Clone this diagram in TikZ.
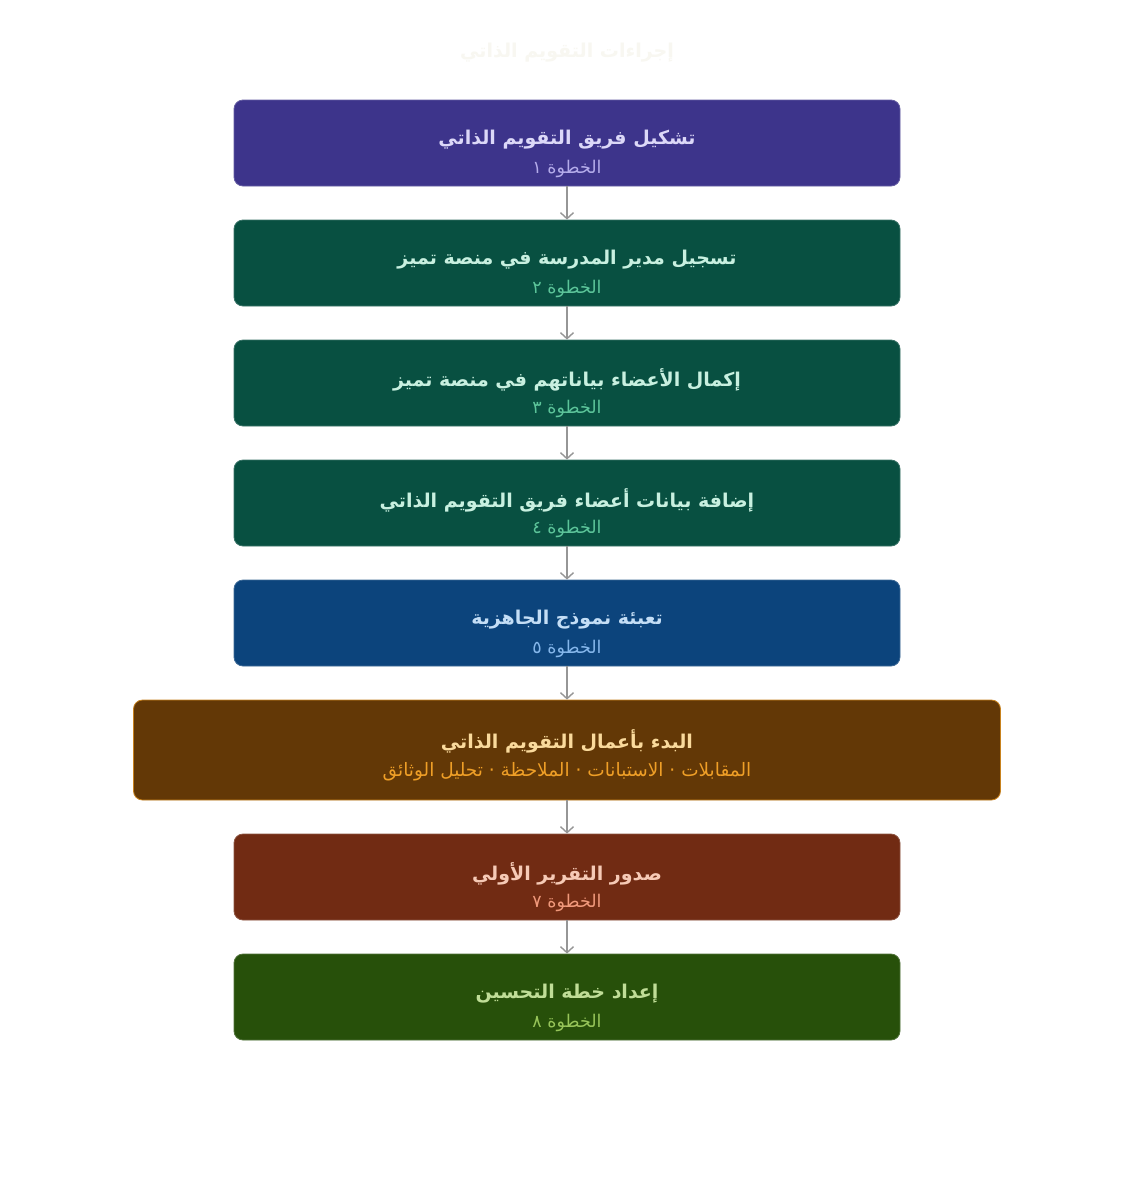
\documentclass[tikz,border=0pt]{standalone}
\usepackage{fontspec}
\TeXXeTstate=1
\newfontfamily\arabicfont[Script=Arabic]{DejaVu Sans}
\usetikzlibrary{arrows.meta}
\definecolor{ttl}{RGB}{248,247,241}
\definecolor{pF}{RGB}{61,52,139}\definecolor{pT}{RGB}{220,216,248}\definecolor{pS}{RGB}{180,172,234}
\definecolor{gF}{RGB}{8,80,65}\definecolor{gT}{RGB}{200,240,224}\definecolor{gS}{RGB}{92,196,154}
\definecolor{bF}{RGB}{12,68,124}\definecolor{bT}{RGB}{196,222,246}\definecolor{bS}{RGB}{133,183,235}
\definecolor{oF}{RGB}{99,56,6}\definecolor{oT}{RGB}{250,218,156}\definecolor{oS}{RGB}{239,159,39}\definecolor{oD}{RGB}{200,130,30}
\definecolor{rF}{RGB}{113,43,19}\definecolor{rT}{RGB}{246,202,182}\definecolor{rS}{RGB}{240,153,123}
\definecolor{lF}{RGB}{39,80,10}\definecolor{lT}{RGB}{192,221,151}\definecolor{lS}{RGB}{151,196,89}
\definecolor{arr}{RGB}{150,150,150}
\tikzset{
  stepbox/.style={rectangle, rounded corners=9pt, minimum width=666pt, minimum height=86pt, inner sep=0pt, line width=0.8pt},
  widebox/.style={stepbox, minimum width=867pt, minimum height=100pt},
  ttext/.style={font=\arabicfont\bfseries\fontsize{19}{23}\selectfont, inner sep=0pt},
  stext/.style={font=\arabicfont\fontsize{17.5}{21}\selectfont, inner sep=0pt},
  conn/.style={draw=arr, line width=1.4pt, -{Straight Barb[length=6pt,width=13pt,line width=1.4pt]}}
}
\begin{document}
\begin{tikzpicture}[x=1pt,y=-1pt]
\useasboundingbox[fill=white] (0,0) rectangle (1134,1200);
\node[font=\arabicfont\bfseries\fontsize{19}{23}\selectfont, text=ttl] (title) at (567,53) {\beginR إجراءات التقويم الذاتي\endR};

\node[stepbox, fill=pF, draw=pF!80!white] (b1) at (567,143) {};
\node[ttext, text=pT] (t1) at (567,140) {\beginR تشكيل فريق التقويم الذاتي\endR};
\node[stext, text=pS] (s1) at (567,169) {\beginR الخطوة ١\endR};

\node[stepbox, fill=gF, draw=gF!80!white] (b2) at (567,263) {};
\node[ttext, text=gT] (t2) at (567,260) {\beginR تسجيل مدير المدرسة في منصة تميز\endR};
\node[stext, text=gS] (s2) at (567,289) {\beginR الخطوة ٢\endR};

\node[stepbox, fill=gF, draw=gF!80!white] (b3) at (567,383) {};
\node[ttext, text=gT] (t3) at (567,380) {\beginR إكمال الأعضاء بياناتهم في منصة تميز\endR};
\node[stext, text=gS] (s3) at (567,409) {\beginR الخطوة ٣\endR};

\node[stepbox, fill=gF, draw=gF!80!white] (b4) at (567,503) {};
\node[ttext, text=gT] (t4) at (567,500) {\beginR إضافة بيانات أعضاء فريق التقويم الذاتي\endR};
\node[stext, text=gS] (s4) at (567,529) {\beginR الخطوة ٤\endR};

\node[stepbox, fill=bF, draw=bF!80!white] (b5) at (567,623) {};
\node[ttext, text=bT] (t5) at (567,620) {\beginR تعبئة نموذج الجاهزية\endR};
\node[stext, text=bS] (s5) at (567,649) {\beginR الخطوة ٥\endR};

\node[widebox, fill=oF, draw=oD] (b6) at (567,750) {};
\node[ttext, text=oT] (t6) at (567,741) {\beginR البدء بأعمال التقويم الذاتي\endR};
\node[stext, text=oS, font=\arabicfont\fontsize{18.5}{22}\selectfont] (s6) at (567,772) {\beginR المقابلات · الاستبانات · الملاحظة · تحليل الوثائق\endR};

\node[stepbox, fill=rF, draw=rF!80!white] (b7) at (567,877) {};
\node[ttext, text=rT] (t7) at (567,874) {\beginR صدور التقرير الأولي\endR};
\node[stext, text=rS] (s7) at (567,903) {\beginR الخطوة ٧\endR};

\node[stepbox, fill=lF, draw=lF!80!white] (b8) at (567,997) {};
\node[ttext, text=lT] (t8) at (567,994) {\beginR إعداد خطة التحسين\endR};
\node[stext, text=lS] (s8) at (567,1023) {\beginR الخطوة ٨\endR};

\draw[conn] (b1.south) -- (b2.north);
\draw[conn] (b2.south) -- (b3.north);
\draw[conn] (b3.south) -- (b4.north);
\draw[conn] (b4.south) -- (b5.north);
\draw[conn] (b5.south) -- (b6.north);
\draw[conn] (b6.south) -- (b7.north);
\draw[conn] (b7.south) -- (b8.north);
\end{tikzpicture}
\end{document}
